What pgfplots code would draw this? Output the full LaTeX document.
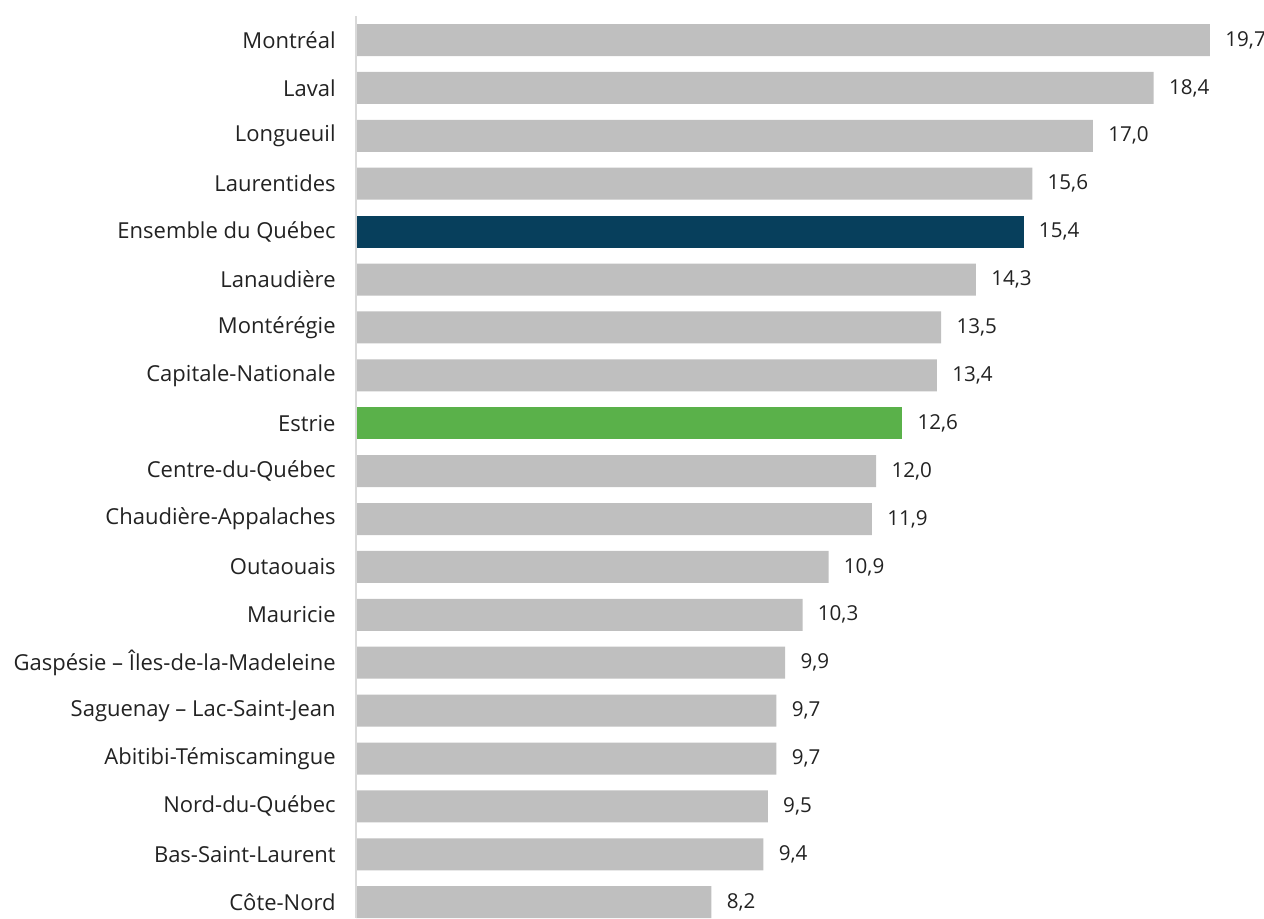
\documentclass[border=0pt]{standalone}
\usepackage{fontspec}
\setmainfont{Open Sans}
\usepackage{pgfplots}
\pgfplotsset{compat=1.18}
\definecolor{bargray}{HTML}{BFBFBF}
\definecolor{navy}{HTML}{073F5C}
\definecolor{estrie}{HTML}{5AB14A}
\definecolor{axisgray}{HTML}{D9D9D9}
\definecolor{txt}{HTML}{222222}

\begin{document}
\begin{tikzpicture}
\useasboundingbox (0,0) rectangle (632pt,459pt);
\begin{axis}[
    at={(178pt,0pt)}, anchor=south west,
    scale only axis,
    width=454pt, height=459pt,
    xbar, bar shift=0pt, bar width=0.668,
    xmin=0, xmax=20.946,
    ymin=-0.835, ymax=18.33,
    y dir=reverse,
    axis line style={draw=none},
    major tick length=0pt,
    xtick=\empty,
    ytick={0,...,18},
    yticklabels={Montréal,Laval,Longueuil,Laurentides,Ensemble du Québec,Lanaudière,Montérégie,Capitale-Nationale,Estrie,Centre-du-Québec,Chaudière-Appalaches,Outaouais,Mauricie,Gaspésie – Îles-de-la-Madeleine,Saguenay – Lac-Saint-Jean,Abitibi-Témiscamingue,Nord-du-Québec,Bas-Saint-Laurent,Côte-Nord},
    yticklabel style={font=\fontsize{11}{13}\selectfont, text=txt, anchor=east, inner sep=0pt, xshift=-10pt},
    nodes near coords,
    nodes near coords style={font=\fontsize{10.3}{12}\selectfont, text=txt, anchor=west, inner sep=0pt, xshift=7.5pt,
        /pgf/number format/.cd, fixed, fixed zerofill, precision=1, use comma, assume math mode=true},
    clip=false,
]
\addplot[fill=bargray, draw=none] coordinates {
    (19.7,0) (18.4,1) (17.0,2) (15.6,3) (14.3,5) (13.5,6) (13.4,7)
    (12.0,9) (11.9,10) (10.9,11) (10.3,12) (9.9,13) (9.7,14) (9.7,15)
    (9.5,16) (9.4,17) (8.2,18)
};
\addplot[fill=navy, draw=none] coordinates {(15.4,4)};
\addplot[fill=estrie, draw=none] coordinates {(12.6,8)};
\draw[axisgray, line width=1pt] (axis cs:0,-0.5) -- (axis cs:0,18.33);
\end{axis}
\end{tikzpicture}
\end{document}
